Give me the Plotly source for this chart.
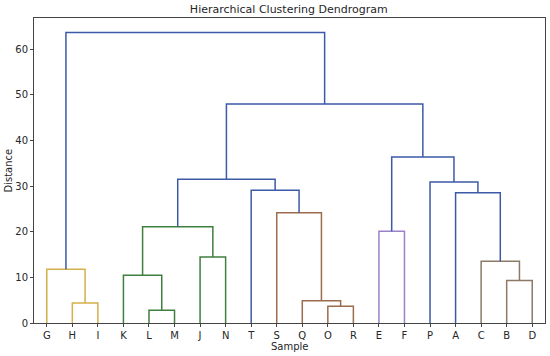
import plotly.graph_objects as go

leaves = ["G", "H", "I", "K", "L", "M", "J", "N", "T", "S",
          "Q", "O", "R", "E", "F", "P", "A", "C", "B", "D"]

# merge name, left child, right child, height, colour group
merge_names = ["HI", "GHI", "LM", "KLM", "JN", "KJ", "OR", "QOR", "SQOR", "TS",
               "MID", "EF", "BD", "CBD", "ACBD", "PA", "EP", "R2", "ROOT"]
merge_left = ["H", "G", "L", "K", "J", "KLM", "O", "Q", "S", "T",
              "KJ", "E", "B", "C", "A", "P", "EF", "MID", "GHI"]
merge_right = ["I", "HI", "M", "LM", "N", "JN", "R", "OR", "QOR", "SQOR",
               "TS", "F", "D", "BD", "CBD", "ACBD", "PA", "EP", "R2"]
merge_height = [4.4, 11.75, 2.8, 10.45, 14.45, 21.1, 3.65, 4.9, 24.15, 29.05,
                31.5, 20.1, 9.3, 13.5, 28.5, 30.9, 36.35, 47.95, 63.65]
merge_group = ["gold", "gold", "green", "green", "green", "green", "brown", "brown", "brown", "blue",
               "blue", "purple", "taupe", "taupe", "blue", "blue", "blue", "blue", "blue"]

palette = {"gold": "#d4b04a", "green": "#3f7f3f", "brown": "#9c6c4c",
           "purple": "#9b82c8", "taupe": "#8c7a68", "blue": "#3d5aa8"}

pos = {name: 5 + 10 * i for i, name in enumerate(leaves)}
hgt = {name: 0.0 for name in leaves}

fig = go.Figure()
for name, l, r, h, g in zip(merge_names, merge_left, merge_right, merge_height, merge_group):
    xl, xr = pos[l], pos[r]
    fig.add_trace(go.Scatter(
        x=[xl, xl, xr, xr], y=[hgt[l], h, h, hgt[r]],
        mode="lines", line=dict(color=palette[g], width=1.5),
        hoverinfo="skip", showlegend=False))
    pos[name] = (xl + xr) / 2
    hgt[name] = h

font = dict(family="DejaVu Sans", size=10, color="#262626")
fig.update_layout(
    width=550, height=356,
    margin=dict(l=34, r=5, t=18, b=33),
    plot_bgcolor="white", paper_bgcolor="white",
    font=font,
    title=dict(text="Hierarchical Clustering Dendrogram", x=0.525, xanchor="center",
               y=0.975, yanchor="middle", font=dict(family="DejaVu Sans", size=11, color="#262626")),
    xaxis=dict(range=[0, 200], tickmode="array", tickvals=[5 + 10 * i for i in range(len(leaves))],
               ticktext=leaves, showline=True, mirror=True, linecolor="#444", linewidth=1,
               ticks="outside", ticklen=3, tickcolor="#444", showgrid=False, zeroline=False,
               automargin=False, tickfont=dict(size=10)),
    yaxis=dict(range=[0, 66.8], tickmode="linear", tick0=0, dtick=10,
               showline=True, mirror=True, linecolor="#444", linewidth=1,
               ticks="outside", ticklen=3, tickcolor="#444", showgrid=False, zeroline=False,
               automargin=False, tickfont=dict(size=10)),
    annotations=[
        dict(text="Sample", xref="paper", yref="paper", x=0.5, y=0, yshift=-23,
             xanchor="center", yanchor="middle", showarrow=False, font=dict(size=10)),
        dict(text="Distance", xref="paper", yref="paper", x=0, y=0.5, xshift=-26,
             xanchor="center", yanchor="middle", textangle=-90, showarrow=False, font=dict(size=10)),
    ],
)
fig.write_html("out.html", config={"displayModeBar": False},
               post_script="document.body.style.margin='0';")
